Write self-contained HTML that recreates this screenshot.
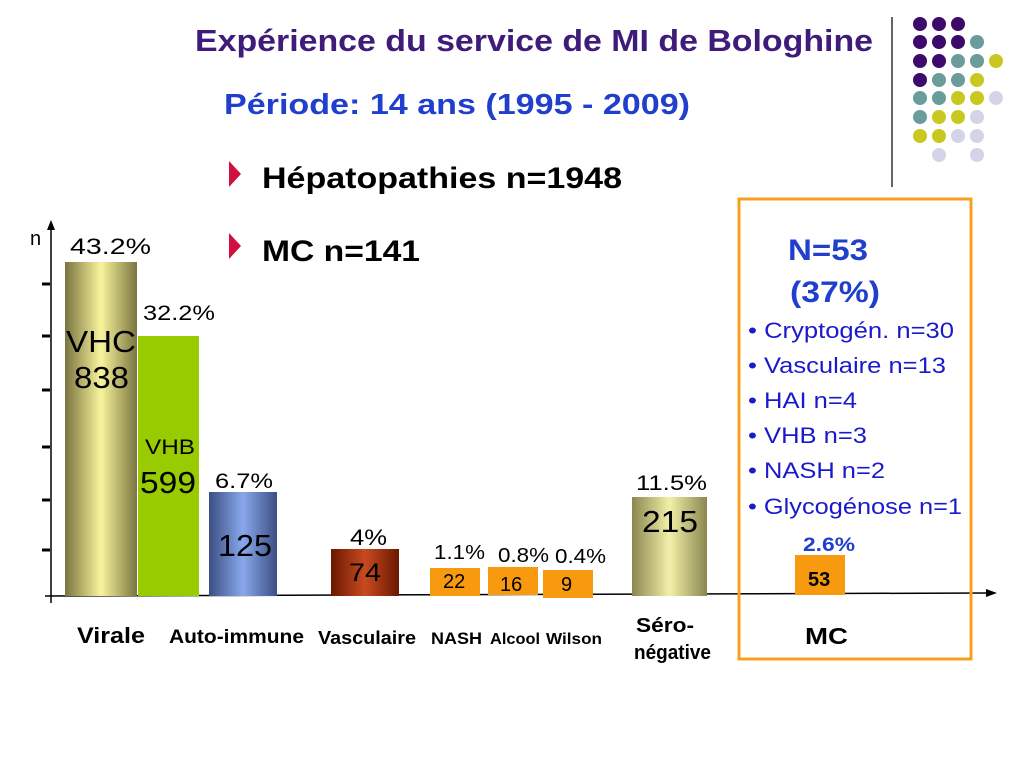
<!DOCTYPE html>
<html><head><meta charset="utf-8"><style>
html,body{margin:0;padding:0;background:#fff;width:1024px;height:768px;overflow:hidden}
text{font-family:"Liberation Sans",sans-serif}
</style></head><body>
<svg width="1024" height="768" viewBox="0 0 1024 768" xmlns="http://www.w3.org/2000/svg">
<defs>
<linearGradient id="gy" x1="0" x2="1"><stop offset="0" stop-color="#7a7440"/><stop offset="0.5" stop-color="#f8f49c"/><stop offset="1" stop-color="#7a7440"/></linearGradient>
<linearGradient id="gs" x1="0" x2="1"><stop offset="0" stop-color="#8a8650"/><stop offset="0.5" stop-color="#f2f0a8"/><stop offset="1" stop-color="#8a8650"/></linearGradient>
<linearGradient id="gb" x1="0" x2="1"><stop offset="0" stop-color="#3c4e84"/><stop offset="0.5" stop-color="#88a8ec"/><stop offset="1" stop-color="#3c4e84"/></linearGradient>
<linearGradient id="gr" x1="0" x2="1"><stop offset="0" stop-color="#6a1800"/><stop offset="0.5" stop-color="#c84a20"/><stop offset="1" stop-color="#6a1800"/></linearGradient>
</defs>
<g lengthAdjust="spacingAndGlyphs">
<text x="195" y="51" font-size="31" font-weight="bold" fill="#3f1b7a" textLength="678" lengthAdjust="spacingAndGlyphs">Expérience du service de MI de Bologhine</text>
<text x="224" y="114" font-size="29" font-weight="bold" fill="#1f3fcc" textLength="466" lengthAdjust="spacingAndGlyphs">Période: 14 ans (1995 - 2009)</text>
<polygon points="229,161 241,174 229,187" fill="#d01040"/>
<text x="262" y="188" font-size="30" font-weight="bold" fill="#000" textLength="360" lengthAdjust="spacingAndGlyphs">Hépatopathies n=1948</text>
<polygon points="229,233 241,246 229,259" fill="#d01040"/>
<text x="262" y="261" font-size="30" font-weight="bold" fill="#000" textLength="158" lengthAdjust="spacingAndGlyphs">MC n=141</text>
</g>
<line x1="892" y1="17" x2="892" y2="187" stroke="#333" stroke-width="1.5"/>
<g>
<circle cx="920" cy="24" r="7" fill="#3d0a6b"/><circle cx="939" cy="24" r="7" fill="#3d0a6b"/><circle cx="958" cy="24" r="7" fill="#3d0a6b"/>
<circle cx="920" cy="42" r="7" fill="#3d0a6b"/><circle cx="939" cy="42" r="7" fill="#3d0a6b"/><circle cx="958" cy="42" r="7" fill="#3d0a6b"/><circle cx="977" cy="42" r="7" fill="#6a9c9c"/>
<circle cx="920" cy="61" r="7" fill="#3d0a6b"/><circle cx="939" cy="61" r="7" fill="#3d0a6b"/><circle cx="958" cy="61" r="7" fill="#6a9c9c"/><circle cx="977" cy="61" r="7" fill="#6a9c9c"/><circle cx="996" cy="61" r="7" fill="#c8c820"/>
<circle cx="920" cy="80" r="7" fill="#3d0a6b"/><circle cx="939" cy="80" r="7" fill="#6a9c9c"/><circle cx="958" cy="80" r="7" fill="#6a9c9c"/><circle cx="977" cy="80" r="7" fill="#c8c820"/>
<circle cx="920" cy="98" r="7" fill="#6a9c9c"/><circle cx="939" cy="98" r="7" fill="#6a9c9c"/><circle cx="958" cy="98" r="7" fill="#c8c820"/><circle cx="977" cy="98" r="7" fill="#c8c820"/><circle cx="996" cy="98" r="7" fill="#d4d4e8"/>
<circle cx="920" cy="117" r="7" fill="#6a9c9c"/><circle cx="939" cy="117" r="7" fill="#c8c820"/><circle cx="958" cy="117" r="7" fill="#c8c820"/><circle cx="977" cy="117" r="7" fill="#d4d4e8"/>
<circle cx="920" cy="136" r="7" fill="#c8c820"/><circle cx="939" cy="136" r="7" fill="#c8c820"/><circle cx="958" cy="136" r="7" fill="#d4d4e8"/><circle cx="977" cy="136" r="7" fill="#d4d4e8"/>
<circle cx="939" cy="155" r="7" fill="#d4d4e8"/><circle cx="977" cy="155" r="7" fill="#d4d4e8"/>
</g>
<line x1="51" y1="225" x2="51" y2="603" stroke="#000" stroke-width="1.5"/>
<polygon points="47,230 51,220 55,230" fill="#000"/>
<line x1="45" y1="596" x2="988" y2="593" stroke="#000" stroke-width="1.5"/>
<polygon points="986,589 997,593 986,597" fill="#000"/>
<text x="30" y="245" font-size="20">n</text>
<g stroke="#000" stroke-width="3">
<line x1="42" y1="284" x2="50" y2="284"/><line x1="42" y1="336" x2="50" y2="336"/><line x1="42" y1="390" x2="50" y2="390"/>
<line x1="42" y1="447" x2="50" y2="447"/><line x1="42" y1="500" x2="50" y2="500"/><line x1="42" y1="550" x2="50" y2="550"/></g>
<rect x="65" y="262" width="72" height="334" fill="url(#gy)"/>
<rect x="138" y="336" width="61" height="260" fill="#99cc00"/>
<rect x="209" y="492" width="68" height="104" fill="url(#gb)"/>
<rect x="331" y="549" width="68" height="47" fill="url(#gr)"/>
<rect x="430" y="568" width="50" height="28" fill="#f79a10"/>
<rect x="488" y="567" width="50" height="28" fill="#f79a10"/>
<rect x="543" y="570" width="50" height="28" fill="#f79a10"/>
<rect x="632" y="497" width="75" height="99" fill="url(#gs)"/>
<rect x="795" y="555" width="50" height="40" fill="#f79a10"/>
<g font-size="22">
<text x="70" y="254" textLength="81" lengthAdjust="spacingAndGlyphs">43.2%</text>
<text x="143" y="320" textLength="72" lengthAdjust="spacingAndGlyphs" font-size="21">32.2%</text>
<text x="215" y="488" textLength="58" lengthAdjust="spacingAndGlyphs" font-size="21">6.7%</text>
<text x="350" y="545" textLength="37" lengthAdjust="spacingAndGlyphs">4%</text>
<text x="434" y="559" textLength="51" lengthAdjust="spacingAndGlyphs" font-size="20">1.1%</text>
<text x="498" y="562" textLength="51" lengthAdjust="spacingAndGlyphs" font-size="20">0.8%</text>
<text x="555" y="563" textLength="51" lengthAdjust="spacingAndGlyphs" font-size="20">0.4%</text>
<text x="636" y="490" textLength="71" lengthAdjust="spacingAndGlyphs" font-size="21">11.5%</text>
</g>
<g>
<text x="66" y="352" font-size="31" textLength="70" lengthAdjust="spacingAndGlyphs">VHC</text>
<text x="74" y="388" font-size="31" textLength="55" lengthAdjust="spacingAndGlyphs">838</text>
<text x="145" y="454" font-size="21" textLength="50" lengthAdjust="spacingAndGlyphs">VHB</text>
<text x="140" y="493" font-size="31" textLength="56" lengthAdjust="spacingAndGlyphs">599</text>
<text x="218" y="556" font-size="31" textLength="54" lengthAdjust="spacingAndGlyphs">125</text>
<text x="349" y="581" font-size="25" textLength="32" lengthAdjust="spacingAndGlyphs">74</text>
<text x="443" y="588" font-size="20">22</text><text x="500" y="591" font-size="20">16</text><text x="561" y="591" font-size="20">9</text>
<text x="642" y="532" font-size="31" textLength="56" lengthAdjust="spacingAndGlyphs">215</text>
<text x="808" y="586" font-size="20" font-weight="bold">53</text>
<text x="803" y="551" font-size="19" font-weight="bold" fill="#1f3fcc" textLength="52" lengthAdjust="spacingAndGlyphs">2.6%</text>
</g>
<g font-weight="bold" fill="#000">
<text x="77" y="643" font-size="22" textLength="68" lengthAdjust="spacingAndGlyphs">Virale</text>
<text x="169" y="643" font-size="19" textLength="135" lengthAdjust="spacingAndGlyphs">Auto-immune</text>
<text x="318" y="644" font-size="18" textLength="98" lengthAdjust="spacingAndGlyphs">Vasculaire</text>
<text x="431" y="644" font-size="17" textLength="51" lengthAdjust="spacingAndGlyphs">NASH</text>
<text x="490" y="644" font-size="16" textLength="50" lengthAdjust="spacingAndGlyphs">Alcool</text>
<text x="546" y="644" font-size="16" textLength="56" lengthAdjust="spacingAndGlyphs">Wilson</text>
<text x="636" y="632" font-size="20" textLength="58" lengthAdjust="spacingAndGlyphs">Séro-</text>
<text x="634" y="659" font-size="20" textLength="77" lengthAdjust="spacingAndGlyphs">négative</text>
<text x="805" y="644" font-size="23" textLength="43" lengthAdjust="spacingAndGlyphs">MC</text>
</g>
<rect x="739" y="199" width="232" height="460" fill="none" stroke="#f7a020" stroke-width="3"/>
<g fill="#1f3fcc" font-weight="bold" font-size="30">
<text x="788" y="260" textLength="80" lengthAdjust="spacingAndGlyphs">N=53</text>
<text x="790" y="302" textLength="90" lengthAdjust="spacingAndGlyphs">(37%)</text>
</g>
<g font-size="22" fill="#1a1acc">
<text x="748" y="338" textLength="206" lengthAdjust="spacingAndGlyphs">• Cryptogén. n=30</text>
<text x="748" y="373" textLength="198" lengthAdjust="spacingAndGlyphs">• Vasculaire n=13</text>
<text x="748" y="408" textLength="109" lengthAdjust="spacingAndGlyphs">• HAI n=4</text>
<text x="748" y="443" textLength="119" lengthAdjust="spacingAndGlyphs">• VHB n=3</text>
<text x="748" y="478" textLength="137" lengthAdjust="spacingAndGlyphs">• NASH n=2</text>
<text x="748" y="514" textLength="214" lengthAdjust="spacingAndGlyphs">• Glycogénose n=1</text>
</g>
</svg>
</body></html>
